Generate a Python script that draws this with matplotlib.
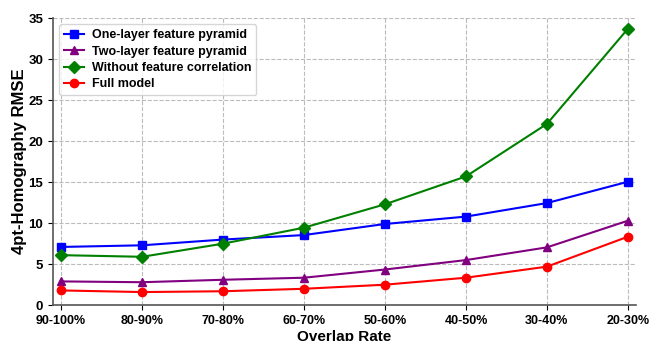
import matplotlib
matplotlib.use("Agg")
import matplotlib.pyplot as plt

overlap = ["90-100%", "80-90%", "70-80%", "60-70%", "50-60%", "40-50%", "30-40%", "20-30%"]
one_layer = [7.1, 7.3, 8.0, 8.55, 9.9, 10.8, 12.45, 15.05]
two_layer = [2.9, 2.8, 3.1, 3.35, 4.35, 5.5, 7.05, 10.3]
no_corr = [6.1, 5.9, 7.5, 9.45, 12.3, 15.7, 22.1, 33.7]
full_model = [1.8, 1.6, 1.7, 2.0, 2.5, 3.35, 4.7, 8.35]

plt.rcParams['font.family'] = ['Liberation Sans', 'DejaVu Sans']
plt.rcParams['font.weight'] = 'bold'

fig = plt.figure(figsize=(6.5, 3.41), dpi=100)
ax = fig.add_axes([0.0815, 0.105, 0.897, 0.842])

x = list(range(len(overlap)))
ax.plot(x, one_layer, color="blue", marker="s", markersize=6, lw=1.5, label="One-layer feature pyramid")
ax.plot(x, two_layer, color="purple", marker="^", markersize=6, lw=1.5, label="Two-layer feature pyramid")
ax.plot(x, no_corr, color="green", marker="D", markersize=6, lw=1.5, label="Without feature correlation")
ax.plot(x, full_model, color="red", marker="o", markersize=6, lw=1.5, label="Full model")

ax.set_xlim(-0.1, 7.1)
ax.set_ylim(0, 35)
ax.set_xticks(x)
ax.set_xticklabels(overlap, fontsize=9, fontweight="bold")
ax.set_yticks(range(0, 36, 5))
ax.tick_params(axis="y", labelsize=9.5)
ax.set_xlabel("Overlap Rate", fontsize=11, fontweight="bold", labelpad=2)
ax.set_ylabel("4pt-Homography RMSE", fontsize=12, fontweight="bold", labelpad=1)

ax.grid(True, linestyle="--", color="#bbbbbb", lw=0.8)
ax.spines["top"].set_visible(False)
ax.spines["right"].set_visible(False)
ax.spines["left"].set_color("#555555")
ax.spines["bottom"].set_color("#555555")
ax.spines["left"].set_linewidth(1.2)
ax.spines["bottom"].set_linewidth(1.2)

leg = ax.legend(loc="upper left", prop={"weight": "bold", "size": 9},
                handlelength=1.6, handletextpad=0.6, borderpad=0.4, labelspacing=0.35)

fig.savefig("out.png", dpi=100)
